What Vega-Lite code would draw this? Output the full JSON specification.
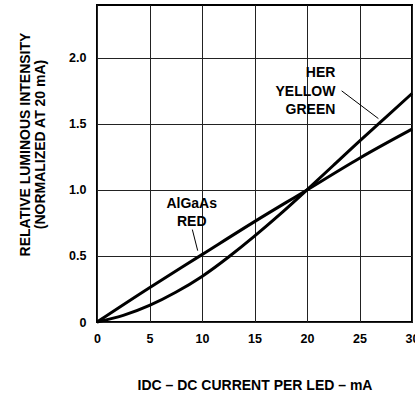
{
  "$schema": "https://vega.github.io/schema/vega-lite/v6.json",
  "width": 315,
  "height": 317,
  "autosize": {"type": "none"},
  "padding": {"left": 97, "top": 5, "right": 3, "bottom": 78},
  "config": {
    "view": {"stroke": "black", "strokeWidth": 2},
    "font": "Liberation Sans",
    "axis": {
      "labelFont": "Liberation Sans",
      "titleFont": "Liberation Sans",
      "labelFontWeight": "bold",
      "titleFontWeight": "bold",
      "labelColor": "black",
      "titleColor": "black",
      "gridColor": "#222222",
      "gridWidth": 1,
      "gridOpacity": 1,
      "ticks": false,
      "domain": false
    }
  },
  "datasets": {
    "curves": [
      {"series": "AlGaAs RED", "current": 0, "intensity": 0},
      {"series": "AlGaAs RED", "current": 5, "intensity": 0.26},
      {"series": "AlGaAs RED", "current": 10, "intensity": 0.51},
      {"series": "AlGaAs RED", "current": 15, "intensity": 0.76},
      {"series": "AlGaAs RED", "current": 20, "intensity": 1.0},
      {"series": "AlGaAs RED", "current": 25, "intensity": 1.24},
      {"series": "AlGaAs RED", "current": 30, "intensity": 1.46},
      {"series": "HER YELLOW GREEN", "current": 0, "intensity": 0},
      {"series": "HER YELLOW GREEN", "current": 2.5, "intensity": 0.05},
      {"series": "HER YELLOW GREEN", "current": 5, "intensity": 0.125},
      {"series": "HER YELLOW GREEN", "current": 7.5, "intensity": 0.225},
      {"series": "HER YELLOW GREEN", "current": 10, "intensity": 0.345},
      {"series": "HER YELLOW GREEN", "current": 12.5, "intensity": 0.49},
      {"series": "HER YELLOW GREEN", "current": 15, "intensity": 0.65},
      {"series": "HER YELLOW GREEN", "current": 17.5, "intensity": 0.82},
      {"series": "HER YELLOW GREEN", "current": 20, "intensity": 1.0},
      {"series": "HER YELLOW GREEN", "current": 22.5, "intensity": 1.185},
      {"series": "HER YELLOW GREEN", "current": 25, "intensity": 1.37},
      {"series": "HER YELLOW GREEN", "current": 27.5, "intensity": 1.55},
      {"series": "HER YELLOW GREEN", "current": 30, "intensity": 1.73}
    ],
    "leaders": [
      {"series": "HER YELLOW GREEN", "x1": 23.3, "y1": 1.75, "x2": 26.8, "y2": 1.54},
      {"series": "AlGaAs RED", "x1": 9.08, "y1": 0.70, "x2": 9.59, "y2": 0.54}
    ],
    "herLabel": [
      {"line": "HER", "x": 22.7, "y": 1.885},
      {"line": "YELLOW", "x": 22.7, "y": 1.745},
      {"line": "GREEN", "x": 22.7, "y": 1.605}
    ],
    "redLabel": [
      {"line": "AlGaAs", "x": 9.02, "y": 0.895},
      {"line": "RED", "x": 9.02, "y": 0.76}
    ]
  },
  "layer": [
    {
      "data": {"name": "curves"},
      "mark": {"type": "line", "color": "black", "strokeWidth": 3, "interpolate": "natural"},
      "encoding": {
        "x": {
          "field": "current",
          "type": "quantitative",
          "scale": {"domain": [0, 30], "nice": false, "zero": false},
          "axis": {
            "values": [0, 5, 10, 15, 20, 25, 30],
            "labelFontSize": 12.5,
            "labelPadding": 10,
            "labelFlush": false,
            "labelOverlap": false,
            "title": "IDC  – DC CURRENT PER LED – mA",
            "titleFontSize": 14,
            "titlePadding": 34
          }
        },
        "y": {
          "field": "intensity",
          "type": "quantitative",
          "scale": {"domain": [0, 2.4], "nice": false},
          "axis": {
            "values": [0, 0.5, 1, 1.5, 2],
            "labelExpr": "datum.value == 0 ? '0' : format(datum.value, '.1f')",
            "labelFontSize": 12.5,
            "labelPadding": 11,
            "labelFlush": false,
            "labelOverlap": false,
            "title": ["RELATIVE LUMINOUS INTENSITY", "(NORMALIZED AT 20 mA)"],
            "titleFontSize": 14,
            "titleLineHeight": 15,
            "titleX": -65,
            "titleY": 139,
            "titleBaseline": "bottom"
          }
        },
        "detail": {"field": "series"}
      }
    },
    {
      "data": {"name": "leaders"},
      "mark": {"type": "rule", "color": "black", "strokeWidth": 1},
      "encoding": {
        "x": {"field": "x1", "type": "quantitative"},
        "x2": {"field": "x2"},
        "y": {"field": "y1", "type": "quantitative"},
        "y2": {"field": "y2"}
      }
    },
    {
      "data": {"name": "herLabel"},
      "mark": {"type": "text", "align": "right", "baseline": "middle", "fontWeight": "bold", "fontSize": 14, "color": "black"},
      "encoding": {
        "x": {"field": "x", "type": "quantitative"},
        "y": {"field": "y", "type": "quantitative"},
        "text": {"field": "line"}
      }
    },
    {
      "data": {"name": "redLabel"},
      "mark": {"type": "text", "align": "center", "baseline": "middle", "fontWeight": "bold", "fontSize": 14, "color": "black"},
      "encoding": {
        "x": {"field": "x", "type": "quantitative"},
        "y": {"field": "y", "type": "quantitative"},
        "text": {"field": "line"}
      }
    }
  ]
}
